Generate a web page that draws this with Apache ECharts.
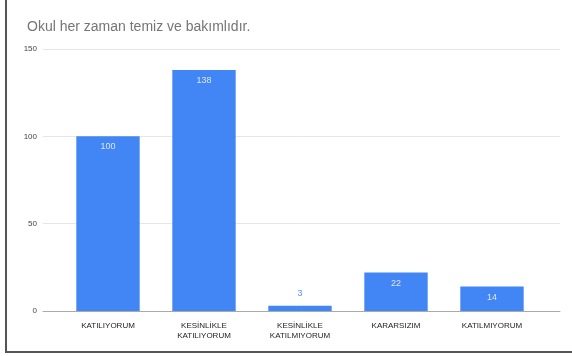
<!DOCTYPE html>
<html>
<head>
<meta charset="utf-8">
<script src="https://cdn.jsdelivr.net/npm/echarts@6/dist/echarts.min.js"></script>
<style>
  body { margin: 0; background: #fff; }
  #wrap { position: relative; width: 572px; height: 356px; }
  #chart { width: 572px; height: 356px; }
  #frame { position: absolute; left: 5px; top: -2px; width: 570px; height: 353px;
    border-left: 2px solid #555; border-bottom: 2px solid #555; pointer-events: none; }
</style>
</head>
<body>
<div id="wrap">
  <div id="chart"></div>
  <div id="frame"></div>
</div>
<script>
// veriler
const categories = ["KATILIYORUM", "KESİNLİKLE\nKATILIYORUM", "KESİNLİKLE\nKATILMIYORUM", "KARARSIZIM", "KATILMIYORUM"];
const values = [100, 138, 3, 22, 14];
const yTicks = [0, 50, 100, 150];

const chart = echarts.init(document.getElementById("chart"));
const font = "Liberation Sans, Arial, sans-serif";

let option = {
  animation: false,
  title: {
    text: "Okul her zaman temiz ve bakımlıdır.",
    left: 22,
    top: 15,
    textStyle: { fontFamily: font, fontSize: 14, fontWeight: "normal", color: "#757575" },
  },
  grid: [
    { left: 60, right: 32, top: 49, bottom: 45 },
    { left: 43, right: 12, top: 49, bottom: 45 },
  ],
  xAxis: [
    {
      type: "category",
      gridIndex: 0,
      data: categories,
      axisLine: { show: false },
      axisTick: { show: false },
      axisLabel: { fontFamily: font, fontSize: 8, color: "#222", margin: 10, lineHeight: 10, interval: 0 },
    },
    {
      type: "category",
      gridIndex: 1,
      data: categories,
      axisLine: { show: true, lineStyle: { color: "#aaa", width: 1 } },
      axisTick: { show: false },
      axisLabel: { show: false },
    },
  ],
  yAxis: [
    {
      type: "value",
      gridIndex: 0,
      min: 0,
      max: yTicks[yTicks.length - 1],
      interval: 50,
      show: false,
    },
    {
      type: "value",
      gridIndex: 1,
      min: 0,
      max: yTicks[yTicks.length - 1],
      interval: 50,
      axisLine: { show: false },
      axisTick: { show: false },
      axisLabel: { fontFamily: font, fontSize: 8, color: "#444", margin: 6 },
      splitLine: { lineStyle: { color: "#e6e6e6", width: 1 } },
    },
  ],
  series: [
    {
      type: "bar",
      xAxisIndex: 0,
      yAxisIndex: 0,
      barCategoryGap: "34%",
      itemStyle: { color: "#4285f4" },
      label: {
        show: true,
        position: "insideTop",
        distance: 6,
        fontFamily: font,
        fontSize: 9,
        color: "#dce7fd",
      },
      data: values.map((v) =>
        v < 10
          ? { value: v, label: { position: "top", distance: 8, color: "#5b93f5" } }
          : v
      ),
    },
  ],
};

chart.setOption(option);
</script>
</body>
</html>
